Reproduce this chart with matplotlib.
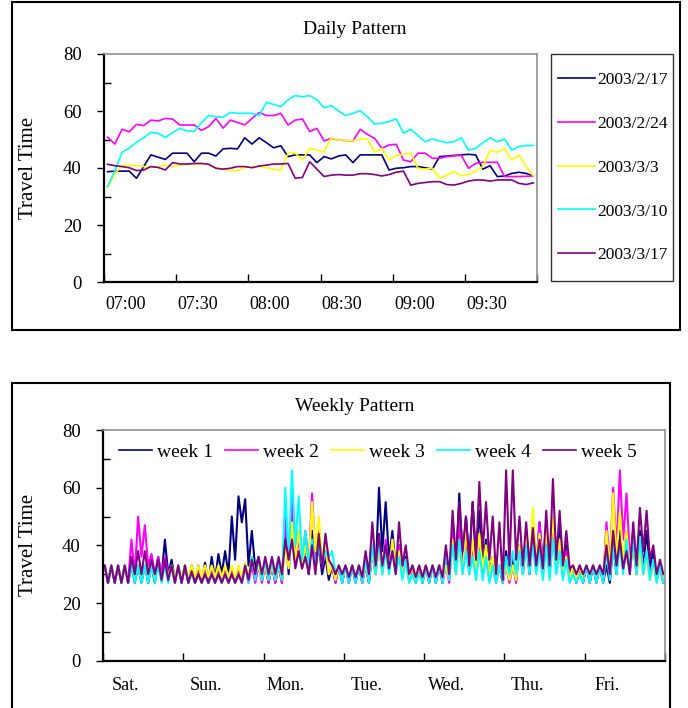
import matplotlib
matplotlib.use("Agg")
import matplotlib.pyplot as plt
from matplotlib.patches import Rectangle
from matplotlib.ticker import MultipleLocator
import numpy as np

plt.rcParams['font.family'] = ['Liberation Serif', 'DejaVu Serif']

# ---------------- daily pattern: 60 samples (3 min) from about 06:51 ----------------
dates = ['2003/2/17', '2003/2/24', '2003/3/3', '2003/3/10', '2003/3/17']
daily_colors = ['#000080', '#FF00FF', '#FFFF00', '#00FFFF', '#800080']
time_labels = ['07:00', '07:30', '08:00', '08:30', '09:00', '09:30']

tt_0217 = [38.7, 38.9, 38.9, 38.9, 36.4, 40.5, 44.6, 43.8, 43.0, 45.2,
           45.2, 45.2, 42.2, 45.2, 45.2, 44.2, 46.7, 46.9, 46.7, 50.6,
           48.4, 50.6, 48.9, 47.1, 47.8, 44.0, 44.6, 44.6, 44.6, 41.9,
           44.0, 43.2, 44.2, 44.6, 41.9, 44.6, 44.6, 44.6, 44.6, 39.3,
           39.9, 40.1, 40.5, 40.5, 40.1, 39.6, 44.0, 44.2, 44.4, 44.6,
           44.8, 44.6, 39.6, 40.8, 37.0, 37.2, 38.1, 38.5, 38.1, 37.2]
tt_0224 = [50.8, 48.4, 53.6, 52.7, 55.3, 54.9, 56.8, 56.5, 57.4, 57.2,
           55.1, 55.1, 55.1, 53.2, 54.5, 57.4, 54.0, 56.8, 56.0, 55.1,
           57.4, 59.5, 58.4, 58.4, 59.2, 55.1, 56.8, 57.2, 52.8, 53.9,
           49.5, 50.4, 49.8, 49.6, 49.5, 53.6, 51.8, 50.4, 46.9, 48.1,
           48.3, 42.8, 42.2, 45.2, 45.2, 43.4, 43.4, 44.0, 44.2, 44.5,
           39.9, 41.6, 42.0, 42.0, 42.0, 37.0, 37.0, 37.0, 37.1, 37.2]
tt_0303 = [33.2, 38.0, 40.8, 41.0, 40.8, 40.5, 40.2, 40.5, 41.0, 40.5,
           41.0, 41.3, 41.3, 41.6, 41.3, 40.1, 39.6, 39.1, 39.1, 40.1,
           40.5, 40.5, 40.1, 39.6, 39.2, 45.2, 45.2, 42.8, 46.9, 46.3,
           45.7, 50.6, 49.8, 49.6, 49.6, 50.2, 50.2, 45.5, 46.9, 42.8,
           44.4, 44.8, 45.2, 39.9, 39.6, 39.9, 36.4, 37.5, 38.7, 37.3,
           37.7, 38.9, 40.5, 46.3, 45.5, 46.9, 42.8, 44.6, 40.5, 37.2]
tt_0310 = [33.5, 39.0, 45.5, 47.0, 49.0, 50.6, 52.5, 52.2, 50.7, 52.4,
           53.9, 53.0, 52.8, 55.9, 58.4, 58.0, 57.8, 59.5, 59.2, 59.2,
           59.2, 58.4, 63.0, 62.3, 61.5, 63.9, 65.4, 65.0, 65.4, 63.9,
           61.2, 61.9, 60.0, 58.4, 59.2, 60.1, 58.0, 55.4, 55.7, 56.3,
           57.2, 52.2, 53.6, 51.4, 49.2, 50.2, 49.5, 48.9, 49.2, 50.6,
           46.3, 46.9, 48.9, 50.6, 49.2, 50.2, 46.3, 47.5, 47.9, 47.9]
tt_0317 = [41.3, 40.8, 40.5, 40.1, 39.1, 39.3, 40.5, 40.2, 39.3, 41.9,
           41.4, 41.4, 41.6, 41.6, 41.3, 39.9, 39.6, 39.9, 40.5, 40.5,
           40.1, 40.7, 41.0, 41.4, 41.4, 41.6, 36.4, 36.7, 42.2, 39.6,
           37.0, 37.5, 37.7, 37.5, 37.5, 38.0, 38.0, 37.7, 37.2, 37.7,
           38.5, 38.9, 34.0, 34.6, 34.9, 35.2, 35.2, 34.2, 34.0, 34.6,
           35.4, 35.8, 35.8, 35.4, 35.8, 35.8, 35.8, 34.6, 34.2, 34.8]
daily_series = [tt_0217, tt_0224, tt_0303, tt_0310, tt_0317]

# ---------------- weekly pattern: 2-hour bins (12 per day), Sat..Fri ----------------
# upper / lower value of the dense trace inside each bin
days = ['Sat.', 'Sun.', 'Mon.', 'Tue.', 'Wed.', 'Thu.', 'Fri.']
weeks = ['week 1', 'week 2', 'week 3', 'week 4', 'week 5']
weekly_colors = ['#000080', '#FF00FF', '#FFFF00', '#00FFFF', '#800080']

w1_hi = [33, 33, 33, 33, 33, 33, 33, 33, 36, 42, 35, 33,
         33, 33, 33, 34, 36, 37, 38, 50, 57, 56, 45, 36,
         33, 33, 33, 45, 52, 45, 40, 45, 40, 36, 33, 33,
         33, 33, 33, 33, 38, 60, 55, 45, 40, 36, 33, 33,
         33, 33, 33, 38, 45, 58, 50, 55, 52, 42, 36, 33,
         38, 36, 40, 42, 45, 48, 42, 45, 48, 40, 33, 33,
         33, 33, 33, 33, 40, 45, 45, 40, 45, 45, 38, 33]
w1_lo = [27, 27, 27, 27, 27, 27, 27, 27, 29, 30, 28, 27,
         27, 27, 27, 27, 28, 30, 30, 35, 48, 33, 32, 28,
         27, 27, 27, 30, 35, 32, 30, 32, 30, 28, 27, 27,
         27, 27, 27, 27, 30, 38, 35, 32, 30, 28, 27, 27,
         27, 27, 27, 28, 32, 35, 35, 35, 33, 30, 28, 27,
         28, 28, 30, 30, 33, 33, 30, 32, 33, 30, 27, 27,
         27, 27, 27, 27, 30, 32, 32, 30, 32, 32, 28, 27]
w2_hi = [33, 33, 33, 33, 42, 50, 47, 37, 36, 36, 33, 33,
         33, 31, 31, 31, 31, 31, 31, 31, 31, 33, 33, 33,
         33, 33, 33, 50, 57, 42, 45, 58, 45, 38, 33, 33,
         33, 33, 33, 33, 38, 40, 42, 42, 40, 35, 33, 33,
         33, 33, 33, 33, 45, 48, 42, 40, 40, 36, 33, 33,
         33, 33, 40, 42, 46, 48, 45, 48, 42, 38, 33, 33,
         33, 33, 33, 48, 60, 66, 58, 45, 42, 38, 35, 33]
w2_lo = [27, 27, 27, 27, 30, 36, 33, 30, 30, 30, 27, 27,
         27, 27, 27, 27, 27, 27, 27, 27, 27, 27, 27, 27,
         27, 27, 27, 33, 35, 33, 33, 35, 33, 30, 27, 27,
         27, 27, 27, 27, 30, 30, 32, 32, 30, 28, 27, 27,
         27, 27, 27, 27, 30, 32, 30, 30, 30, 28, 27, 27,
         27, 27, 30, 30, 32, 33, 32, 33, 30, 28, 27, 27,
         27, 27, 27, 33, 38, 42, 35, 33, 30, 30, 28, 27]
w3_hi = [33, 33, 33, 33, 33, 33, 33, 33, 33, 33, 33, 33,
         33, 33, 33, 33, 33, 33, 33, 33, 33, 34, 36, 33,
         33, 33, 33, 40, 48, 45, 40, 55, 50, 40, 33, 33,
         33, 33, 33, 33, 38, 40, 38, 42, 38, 35, 33, 33,
         33, 33, 33, 33, 42, 40, 45, 42, 44, 40, 36, 33,
         33, 33, 40, 45, 53, 44, 45, 50, 42, 36, 33, 33,
         33, 33, 33, 45, 58, 52, 45, 40, 38, 36, 33, 33]
w3_lo = [28, 28, 28, 28, 28, 28, 28, 29, 29, 29, 29, 29,
         29, 29, 29, 29, 29, 29, 29, 29, 29, 29, 30, 28,
         28, 28, 28, 32, 35, 33, 32, 38, 35, 30, 28, 28,
         28, 28, 28, 28, 30, 30, 30, 32, 30, 29, 28, 28,
         28, 28, 28, 28, 30, 30, 32, 30, 32, 30, 28, 28,
         28, 28, 30, 32, 35, 32, 32, 33, 30, 28, 28, 28,
         28, 28, 28, 32, 35, 35, 32, 30, 30, 28, 28, 28]
w4_hi = [33, 33, 33, 33, 33, 33, 33, 33, 33, 33, 33, 33,
         33, 30, 30, 30, 30, 30, 30, 30, 30, 33, 36, 36,
         35, 35, 34, 60, 66, 57, 45, 42, 40, 38, 38, 33,
         33, 33, 33, 35, 40, 42, 38, 38, 36, 35, 30, 30,
         33, 33, 33, 38, 40, 42, 38, 36, 38, 36, 33, 33,
         36, 38, 38, 40, 40, 38, 40, 42, 38, 35, 30, 30,
         33, 33, 33, 38, 40, 40, 42, 42, 43, 38, 35, 33]
w4_lo = [27, 27, 27, 27, 27, 27, 27, 27, 27, 27, 27, 27,
         27, 27, 27, 27, 27, 27, 27, 27, 27, 27, 28, 28,
         28, 28, 28, 35, 40, 35, 33, 33, 33, 36, 30, 27,
         27, 27, 27, 27, 30, 30, 30, 30, 28, 27, 27, 27,
         27, 27, 27, 28, 30, 30, 30, 28, 28, 27, 27, 27,
         30, 30, 30, 30, 30, 28, 28, 30, 28, 27, 27, 27,
         27, 27, 27, 28, 30, 30, 30, 30, 30, 28, 27, 27]
w5_hi = [33, 33, 33, 33, 36, 38, 38, 35, 35, 35, 33, 33,
         33, 31, 30, 30, 30, 30, 30, 30, 30, 33, 35, 36,
         36, 36, 36, 42, 42, 38, 36, 40, 44, 44, 33, 33,
         33, 33, 33, 38, 48, 44, 40, 38, 48, 40, 33, 33,
         33, 33, 33, 40, 52, 55, 50, 55, 62, 55, 50, 48,
         66, 66, 50, 48, 46, 42, 52, 63, 52, 45, 33, 33,
         33, 33, 33, 40, 45, 42, 38, 48, 53, 52, 40, 35]
w5_lo = [27, 27, 27, 27, 30, 30, 30, 30, 28, 28, 27, 27,
         27, 27, 27, 27, 27, 27, 27, 27, 27, 28, 30, 30,
         30, 30, 30, 35, 32, 32, 30, 30, 32, 35, 30, 30,
         29, 29, 29, 30, 33, 33, 32, 30, 33, 30, 29, 29,
         29, 29, 29, 30, 35, 38, 33, 35, 38, 35, 30, 28,
         33, 35, 33, 33, 33, 32, 33, 35, 33, 32, 30, 30,
         30, 30, 30, 30, 33, 32, 30, 33, 38, 35, 30, 30]
weekly_hi = [w1_hi, w2_hi, w3_hi, w4_hi, w5_hi]
weekly_lo = [w1_lo, w2_lo, w3_lo, w4_lo, w5_lo]

W, H = 688, 708


def fx(px):
    return px / W


def fy(py):
    return 1 - py / H


def excel_axes(ax):
    ax.set_ylim(0, 80)
    ax.yaxis.set_major_locator(MultipleLocator(20))
    ax.yaxis.set_minor_locator(MultipleLocator(10))
    ax.tick_params(axis='y', which='major', direction='out', length=5, width=1,
                   pad=11, labelsize=13.5)
    ax.tick_params(axis='y', which='minor', direction='in', length=5, width=1)
    for s in ('left', 'bottom'):
        ax.spines[s].set_color('black')
        ax.spines[s].set_linewidth(1.6)
    for s in ('top', 'right'):
        ax.spines[s].set_color('#909090')
        ax.spines[s].set_linewidth(1.2)


fig = plt.figure(figsize=(W / 100, H / 100), dpi=100)

# outer chart frames
fig.patches.append(Rectangle((fx(12), fy(330)), fx(668), 328 / H, fill=False,
                             edgecolor='black', linewidth=1.5, transform=fig.transFigure))
fig.patches.append(Rectangle((fx(12), fy(720)), fx(658), 337 / H, fill=False,
                             edgecolor='black', linewidth=1.5, transform=fig.transFigure))

# ---------------- daily chart ----------------
ax1 = fig.add_axes([fx(104), fy(282), fx(433), 228 / H])
for vals, lab, col in zip(daily_series, dates, daily_colors):
    x = np.arange(len(vals)) + 0.5
    ax1.plot(x, vals, color=col, lw=1.2, label=lab)
excel_axes(ax1)
ax1.set_xlim(0, 60)
ax1.set_xticks(np.arange(0, 61, 10))
ax1.set_xticklabels([])
ax1.set_xticks(np.arange(len(time_labels)) * 10 + 3.0, minor=True)
ax1.set_xticklabels(time_labels, minor=True, fontsize=13)
ax1.tick_params(axis='x', which='major', direction='in', length=6, width=1)
ax1.tick_params(axis='x', which='minor', length=0, pad=10)
ax1.set_ylabel('Travel Time', fontsize=15)
ax1.yaxis.set_label_coords(fx(38), fy(168), transform=fig.transFigure)
fig.text(fx(355), fy(30), 'Daily Pattern', ha='center', va='center', fontsize=14)

fig.patches.append(Rectangle((fx(551), fy(281)), fx(122), 227 / H, fill=False,
                             edgecolor='#333333', linewidth=1.0, transform=fig.transFigure))
h, l = ax1.get_legend_handles_labels()
fig.legend(h, l, loc='center', bbox_to_anchor=(fx(613), fy(167.5)), frameon=False,
           fontsize=12.5, handlelength=2.1, handletextpad=0.15, labelspacing=1.6,
           borderpad=0)

# ---------------- weekly chart ----------------
ax2 = fig.add_axes([fx(103), fy(660.7), fx(562), 230.7 / H])
for hi, lo, lab, col in zip(weekly_hi, weekly_lo, weeks, weekly_colors):
    k = np.arange(len(hi))
    x = np.column_stack([(k + 0.25) / 12, (k + 0.75) / 12]).ravel()
    y = np.column_stack([hi, lo]).ravel()
    ax2.plot(x, y, color=col, lw=1.5, label=lab)
excel_axes(ax2)
ax2.set_xlim(0, 7)
ax2.set_xticks(np.arange(0, 8))
ax2.set_xticklabels([])
ax2.set_xticks(np.arange(7) + 0.28, minor=True)
ax2.set_xticklabels(days, minor=True, fontsize=13)
ax2.tick_params(axis='x', which='major', direction='in', length=6, width=1)
ax2.tick_params(axis='x', which='minor', length=0, pad=12)
ax2.set_ylabel('Travel Time', fontsize=15)
ax2.yaxis.set_label_coords(fx(38), fy(545), transform=fig.transFigure)
fig.text(fx(355), fy(407), 'Weekly Pattern', ha='center', va='center', fontsize=14)
leg2 = ax2.legend(loc='center', bbox_to_anchor=(fx(378), fy(452)),
                  bbox_transform=fig.transFigure, ncol=5, frameon=False, fontsize=14,
                  handlelength=1.7, handletextpad=0.27, columnspacing=0.6, borderpad=0)
for line in leg2.get_lines():
    line.set_linewidth(1.2)

fig.savefig('out.png', dpi=100)
